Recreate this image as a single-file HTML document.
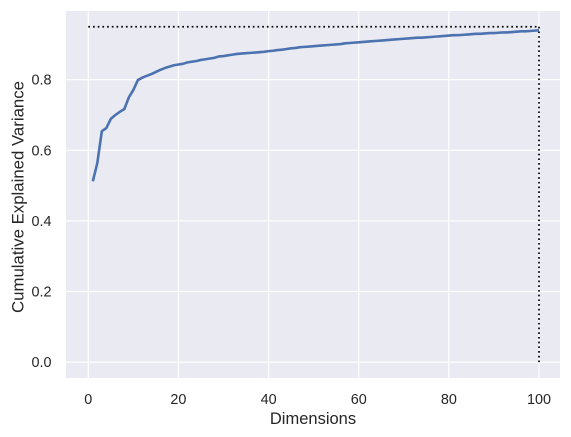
<!DOCTYPE html>
<html><head><meta charset="utf-8"><style>
html,body{margin:0;padding:0;background:#fff;}
svg{display:block;font-family:"Liberation Sans","DejaVu Sans",sans-serif;}
</style></head><body>
<svg id="chart" width="571" height="437" xmlns="http://www.w3.org/2000/svg">
<rect x="66" y="11" width="494" height="367" fill="#EAEAF2"/>
<g id="grid"></g>
<g id="ticks"></g>
<g id="series"></g>
<text x="313" y="424" text-anchor="middle" font-size="16.5" fill="#262626">Dimensions</text>
<text transform="translate(23.5,197) rotate(-90)" text-anchor="middle" font-size="16.8" fill="#262626">Cumulative Explained Variance</text>
</svg>
<script>
const dims = [];
for (let i = 1; i <= 100; i++) dims.push(i);
const variance = [.512,.564,.654,.663,.689,.700,.709,.717,.750,.771,.799,.806,.811,.816,.822,.828,.833,.837,.841,.843,.845,.849,.851,.853,.856,.858,.860,.862,.866,.867,.869,.871,.873,.874,.875,.876,.877,.878,.879,.881,.882,.884,.885,.887,.889,.890,.892,.893,.894,.895,.896,.897,.898,.899,.900,.901,.903,.904,.905,.906,.907,.908,.909,.910,.911,.912,.913,.914,.915,.916,.917,.918,.919,.919,.920,.921,.922,.923,.924,.925,.926,.926,.927,.928,.929,.930,.930,.931,.932,.932,.933,.934,.934,.935,.936,.937,.937,.938,.939,.940];
const xTicks = [0,20,40,60,80,100];
const yTicks = [0.0,0.2,0.4,0.6,0.8];
const threshold = 0.95;
const thresholdDim = 100;

const NS = "http://www.w3.org/2000/svg";
const X = v => 88.3 + v * 4.507;
const Y = v => 362.1 - v * 353;
function mk(tag, attrs, parent) {
  const e = document.createElementNS(NS, tag);
  for (const k in attrs) e.setAttribute(k, attrs[k]);
  document.getElementById(parent).appendChild(e);
  return e;
}
xTicks.forEach(t => {
  const l = mk('line', {x1: X(t), x2: X(t), y1: 11, y2: 378, stroke: '#fff', 'stroke-width': 1.2}, 'grid');
  
  
  const tx = mk('text', {x: X(t), y: 404, 'text-anchor': 'middle', 'font-size': 14.4, fill: '#262626'}, 'ticks');
  tx.textContent = t;
  
  
});
yTicks.forEach(t => {
  const l = mk('line', {x1: 66, x2: 560, y1: Y(t), y2: Y(t), stroke: '#fff', 'stroke-width': 1.2}, 'grid');
  
  
  const tx = mk('text', {x: 51.5, y: Y(t) + 5, 'text-anchor': 'end', 'font-size': 14.4, fill: '#262626'}, 'ticks');
  tx.textContent = t.toFixed(1);
  
  
});
const h = mk('line', {x1: X(0), x2: X(thresholdDim), y1: Y(threshold), y2: Y(threshold), stroke: '#000', 'stroke-width': 1.7, 'stroke-dasharray': '1.7,3'}, 'series');


const v = mk('line', {x1: X(thresholdDim), x2: X(thresholdDim), y1: Y(threshold), y2: Y(0), stroke: '#000', 'stroke-width': 1.7, 'stroke-dasharray': '1.7,3'}, 'series');


const pts = dims.map((d, i) => X(d).toFixed(2) + ',' + Y(variance[i]).toFixed(2)).join(' ');
const p = mk('polyline', {points: pts, fill: 'none', stroke: '#4C72B0', 'stroke-width': 2.6, 'stroke-linejoin': 'round'}, 'series');


</script>
</body></html>
